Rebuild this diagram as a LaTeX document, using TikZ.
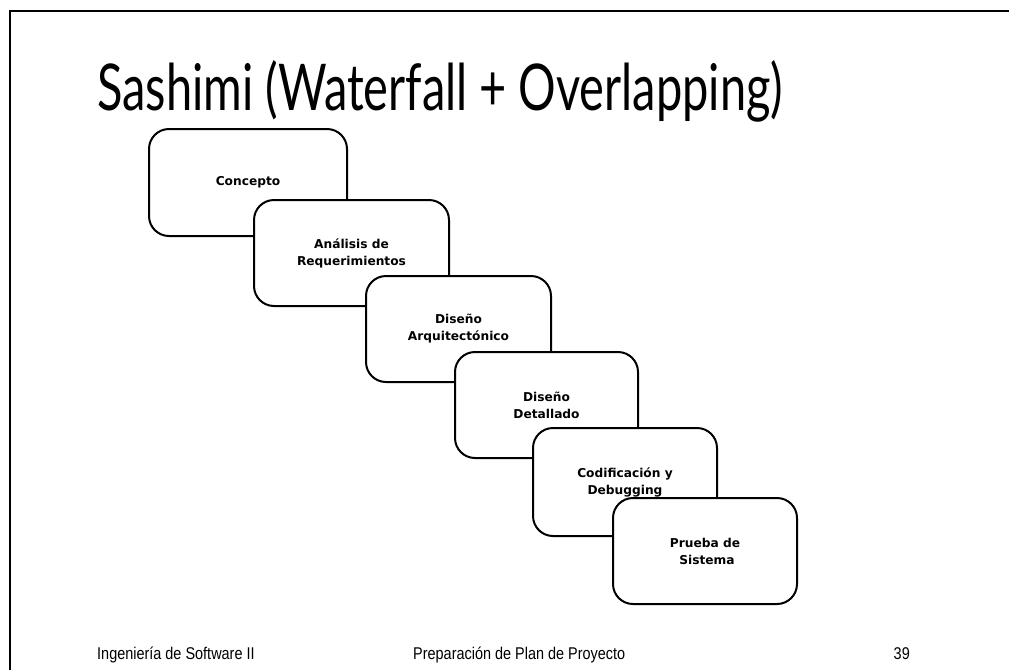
\documentclass[tikz,border=0pt]{standalone}
\usepackage{graphicx}
\usepackage{fontspec}
\setmainfont{Liberation Sans}
\newfontfamily\titlefont{Lato}
\newfontfamily\phasefont{DejaVu Sans}
\usetikzlibrary{positioning}

\begin{document}
\begin{tikzpicture}[x=1pt, y=-1pt,
    phase/.style={rectangle, rounded corners=20pt, draw=black, line width=2pt, fill=white, align=center, inner sep=0pt, font=\phasefont\bfseries\fontsize{12.2}{17}\selectfont},
    footer/.style={inner sep=0pt, font=\fontsize{17}{20}\selectfont}]
    \useasboundingbox (0,0) rectangle (1009,670);
    % Frame
    \draw[line width=2pt] (10,670) -- (10,11) -- (1009,11);
    % Title
    \node (title) [anchor=base west, inner sep=0pt] at (97,110) {\resizebox{686pt}{50pt}{\titlefont Sashimi (Waterfall + Overlapping)}};
    % Phases
    \node (concepto) [phase, minimum width=198pt, minimum height=107pt] at (248,182.5) {Concepto};
    \node (analisis) [phase, minimum width=195pt, minimum height=106pt] at (351.5,253) {Análisis de\\Requerimientos};
    \node (arquitectura) [phase, minimum width=185pt, minimum height=106pt] at (458.5,329) {Diseño\\Arquitectónico};
    \node (detallado) [phase, minimum width=183pt, minimum height=106pt] at (546.5,405) {Diseño\\Detallado};
    \node (codigo) [phase, minimum width=184pt, minimum height=108pt] at (625,482) {Codificación y\\Debugging};
    \node (prueba) [phase, minimum width=184pt, minimum height=106pt] at (705,551) {Prueba de\\\hspace*{4pt}Sistema};
    % Footer
    \node (curso) [footer, anchor=base west] at (97,659) {\scalebox{0.85}[1]{Ingeniería de Software II}};
    \node (tema) [footer, anchor=base west] at (413,659) {\scalebox{0.85}[1]{Preparación de Plan de Proyecto}};
    \node (pagina) [footer, anchor=base east] at (910,659) {\scalebox{0.85}[1]{39}};
\end{tikzpicture}
\end{document}
